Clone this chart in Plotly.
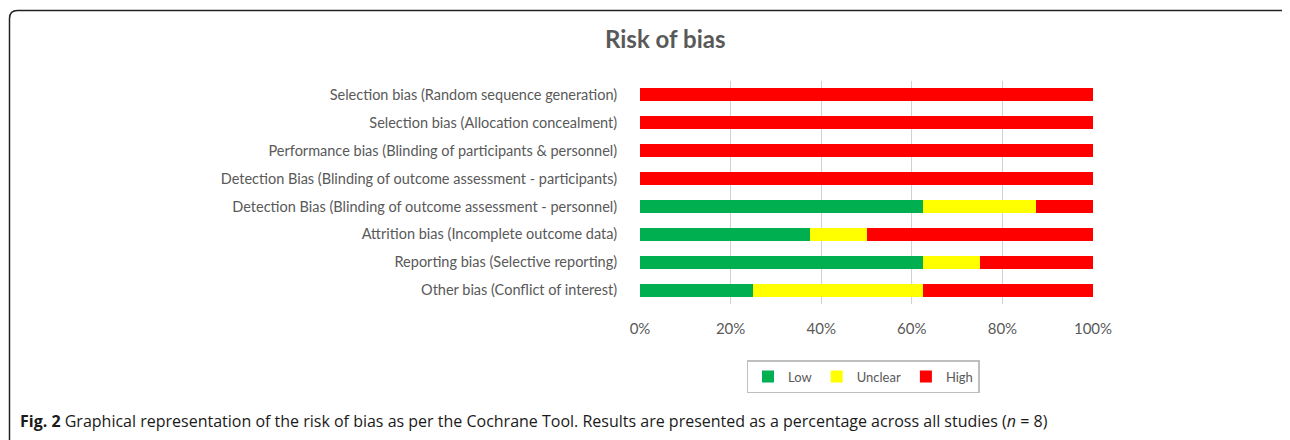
import plotly.graph_objects as go

categories = [
    "Selection bias (Random sequence generation)",
    "Selection bias (Allocation concealment)",
    "Performance bias (Blinding of participants & personnel)",
    "Detection Bias (Blinding of outcome assessment - participants)",
    "Detection Bias (Blinding of outcome assessment - personnel)",
    "Attrition bias (Incomplete outcome data)",
    "Reporting bias (Selective reporting)",
    "Other bias (Conflict of interest)",
]
low = [0, 0, 0, 0, 62.5, 37.5, 62.5, 25]
unclear = [0, 0, 0, 0, 25, 12.5, 12.5, 37.5]
high = [100, 100, 100, 100, 12.5, 50, 25, 37.5]
tick_vals = [0, 20, 40, 60, 80, 100]
tick_text = ["0%", "20%", "40%", "60%", "80%", "100%"]

OFF = 8  # page body margin
W, H = 1290 - OFF, 440 - OFF
L = 640 - OFF
T = 81 - OFF
R = W - (1093 - OFF)
B = H - (304 - OFF)
PW, PH = W - L - R, H - T - B

def px(x):
    return (x - OFF - L) / PW

def py(y):
    return (H - B - (y - OFF)) / PH

GRAY = "#595959"
FONT = "Lato"

fig = go.Figure()
for name, vals, col in [("Low", low, "#00B050"), ("Unclear", unclear, "#FFFF00"), ("High", high, "#FF0000")]:
    fig.add_trace(go.Bar(y=categories, x=vals, name=name, orientation="h",
                         marker=dict(color=col, line=dict(width=0))))

border = (f"M {px(9.5)},{py(445)} L {px(9.5)},{py(18.5)} Q {px(9.5)},{py(10.5)} {px(17.5)},{py(10.5)} "
          f"L {px(1281)},{py(10.5)} Q {px(1289)},{py(10.5)} {px(1289)},{py(18.5)} L {px(1289)},{py(445)}")

fig.update_layout(
    width=W, height=H,
    margin=dict(l=L, r=R, t=T, b=B),
    paper_bgcolor="white", plot_bgcolor="white",
    barmode="stack", bargap=0.53,
    font=dict(family=FONT, color=GRAY, size=15),
    xaxis=dict(range=[0, 100], tickvals=tick_vals, ticktext=tick_text, showgrid=True,
               gridcolor="#d0d0d0", gridwidth=1.2, zeroline=False, showline=False,
               ticks="outside", ticklen=11, tickcolor="rgba(0,0,0,0)",
               tickfont=dict(size=15, color=GRAY, family=FONT), fixedrange=True),
    yaxis=dict(autorange="reversed", showgrid=False, zeroline=False, showline=False,
               ticks="outside", ticklen=19, tickcolor="rgba(0,0,0,0)",
               tickfont=dict(size=14.5, color=GRAY, family=FONT)),
    legend=dict(orientation="h", x=px(863), xanchor="center", y=py(360), yanchor="top",
                bordercolor="#bfbfbf", borderwidth=1.5, font=dict(size=13, color=GRAY, family=FONT),
                traceorder="normal"),
    shapes=[dict(type="path", path=border, xref="paper", yref="paper",
                 line=dict(color="#222222", width=1.5), layer="above")],
    annotations=[
        dict(text="<b>Risk of bias</b>", x=px(665), y=py(39), xref="paper", yref="paper",
             showarrow=False, xanchor="center", yanchor="middle",
             font=dict(size=24, color=GRAY, family=FONT)),
        dict(text="<b>Fig. 2</b> Graphical representation of the risk of bias as per the Cochrane Tool. "
                  "Results are presented as a percentage across all studies (<i>n</i> = 8)",
             x=px(18), y=py(421), xref="paper", yref="paper", showarrow=False,
             xanchor="left", yanchor="middle",
             font=dict(size=16, color="#1a1a1a", family="Open Sans")),
    ],
)

fig.write_html("out.html")
